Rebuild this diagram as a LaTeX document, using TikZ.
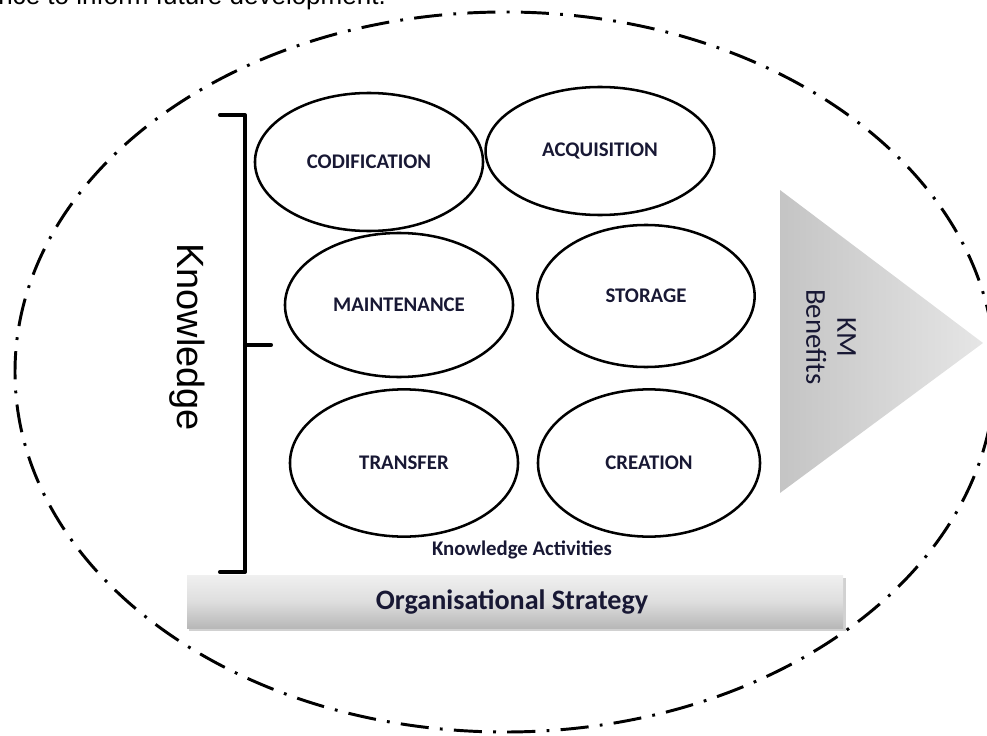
\documentclass[tikz,border=0pt]{standalone}
\usepackage{fontspec}
\setmainfont{Carlito}
\newfontfamily\arialf{Liberation Sans}
\usetikzlibrary{shapes.geometric}
\definecolor{txtnavy}{RGB}{24,24,52}
\tikzset{
  actbox/.style={ellipse, draw=black, line width=1.8pt, inner sep=0pt,
    font=\fontsize{14.8}{16}\selectfont\bfseries, text=txtnavy},
  outerline/.style={line width=2.1pt, dash pattern=on 20pt off 8pt on 2pt off 8pt},
  bracket/.style={line width=2.9pt, line join=round, line cap=round}
}
\begin{document}
\begin{tikzpicture}[x=0.025cm, y=-0.025cm]
\useasboundingbox (0,0) rectangle (987,736);
% clipped top caption
\node[anchor=base west, inner sep=0pt, font=\arialf\fontsize{18.5}{20}\selectfont, text=black] (cap) at (-2,5) {nce to inform future development.};
% outer dash-dot ellipse
\draw[outerline] (505,372) ellipse (490 and 360);
% activity ellipses
\node[actbox, minimum width=5.7cm, minimum height=3.45cm] (cod) at (369,162) {CODIFICATION};
\node[actbox, minimum width=5.72cm, minimum height=3.2cm] (acq) at (600,151) {ACQUISITION};
\node[actbox, minimum width=5.7cm, minimum height=3.6cm] (mai) at (399,305) {MAINTENANCE};
\node[actbox, minimum width=5.43cm, minimum height=3.55cm] (sto) at (646,296) {STORAGE};
\node[actbox, minimum width=5.7cm, minimum height=3.68cm] (tra) at (404,463) {TRANSFER};
\node[actbox, minimum width=5.55cm, minimum height=3.68cm] (cre) at (649,463) {CREATION};
% KM benefits triangle
\coordinate (t1) at (780,190);
\coordinate (t2) at (983,343);
\coordinate (t3) at (780,493);
\shade[left color=black!23, right color=black!10] (t1) -- (t2) -- (t3) -- cycle;
\node[rotate=-90, align=center, font=\fontsize{20.5}{22}\selectfont, text=txtnavy, inner sep=0pt] (km) at (831,337) {KM\\Benefits};
% bracket
\coordinate (b1) at (220,115);
\coordinate (b2) at (245,115);
\coordinate (b3) at (245,572);
\coordinate (b4) at (220,572);
\coordinate (bm) at (245,345);
\coordinate (bt) at (271,345);
\draw[bracket] (b1) -- (b2) -- (b3) -- (b4);
\draw[bracket] (bm) -- (bt);
\node[rotate=-90, font=\arialf\fontsize{27}{30}\selectfont, text=black, inner sep=0pt] (know) at (187,337) {Knowledge};
% activities label
\node[font=\fontsize{14.8}{16}\selectfont\bfseries, text=txtnavy, inner sep=0pt] (kact) at (522,550) {Knowledge Activities};
% strategy bar
\fill[black!18] (189,578) rectangle (846,631);
\shade[top color=black!6, bottom color=black!28, middle color=black!13] (187,575) rectangle (843,628);
\node[font=\fontsize{20}{22}\selectfont\bfseries, text=txtnavy, inner sep=0pt] (strat) at (512,602) {Organisational Strategy};
\end{tikzpicture}
\end{document}
